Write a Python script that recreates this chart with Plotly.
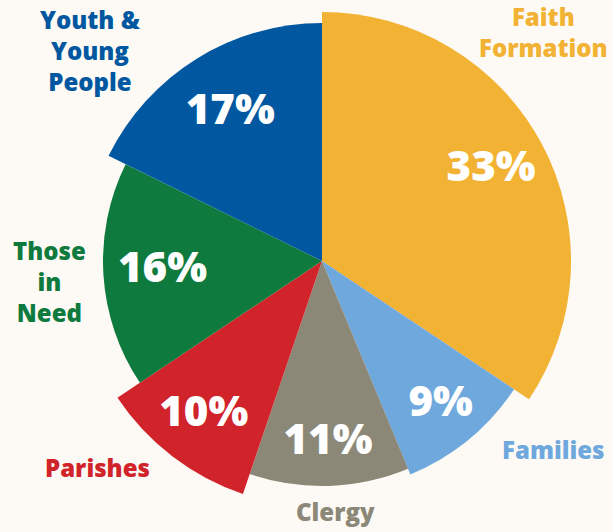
import plotly.graph_objects as go

# ---- data ----
categories = ["Faith Formation", "Families", "Clergy", "Parishes", "Those in Need", "Youth & Young People"]
percents = [33, 9, 11, 10, 16, 17]
radii = [249, 231, 225, 246, 219, 238]   # slice lengths (relative scale)
pct_labels = ["33%", "9%", "11%", "10%", "16%", "17%"]
colors = ["#F2B233", "#6FA8DC", "#8C8878", "#D0232A", "#0F7A3D", "#0258A0"]

# ---- style: where the % label sits along each slice (fraction of slice length) ----
label_frac = [0.77, 0.81, 0.81, 0.79, 0.73, 0.73]

# ---- derived angles (clockwise from top, normalised to total) ----
total = sum(percents)
widths = [p / total * 360 for p in percents]
mids = []
acc = 0
for w in widths:
    mids.append(acc + w / 2)
    acc += w

FONT = "Open Sans"
BG = "#FDFAF5"

fig = go.Figure()
fig.add_trace(go.Barpolar(
    r=radii, theta=mids, width=widths,
    marker=dict(color=colors, line=dict(width=0)),
    hoverinfo="skip", showlegend=False,
))
fig.add_trace(go.Scatterpolar(
    r=[r * f for r, f in zip(radii, label_frac)], theta=mids, mode="text",
    text=pct_labels,
    textfont=dict(color="white", size=42, family=FONT, weight=800),
    hoverinfo="skip", showlegend=False,
))

# outer category labels: (text, center x, center y, colour)
outer = [
    ("Faith<br>Formation", 543, 32, colors[0]),
    ("Families", 553, 449, colors[1]),
    ("Clergy", 335, 511, colors[2]),
    ("Parishes", 97, 467, colors[3]),
    ("Those<br>in<br>Need", 49, 281, colors[4]),
    ("Youth &<br>Young<br>People", 90, 50, colors[5]),
]
W, H = 613, 532
FS = 24
annotations = []
for txt, px, py, c in outer:
    annotations.append(dict(
        text=txt, x=px / W, y=1 - py / H, xref="paper", yref="paper",
        xanchor="center", yanchor="middle", showarrow=False, align="center",
        font=dict(family=FONT, size=FS, color=c, weight=800),
    ))

cx, cy, R = 322, 261, 250
fig.update_layout(
    width=W, height=H,
    margin=dict(l=0, r=0, t=0, b=0),
    paper_bgcolor=BG, plot_bgcolor=BG,
    polar=dict(
        domain=dict(x=[(cx - R) / W, (cx + R) / W], y=[(H - cy - R) / H, (H - cy + R) / H]),
        bgcolor="rgba(0,0,0,0)",
        radialaxis=dict(range=[0, R], visible=False),
        angularaxis=dict(rotation=90, direction="clockwise", visible=False),
        bargap=0,
    ),
    annotations=annotations,
)

fig.write_html(
    "out.html",
    config={"displayModeBar": False},
    post_script="document.body.style.margin='0';document.body.style.overflow='hidden';",
)
